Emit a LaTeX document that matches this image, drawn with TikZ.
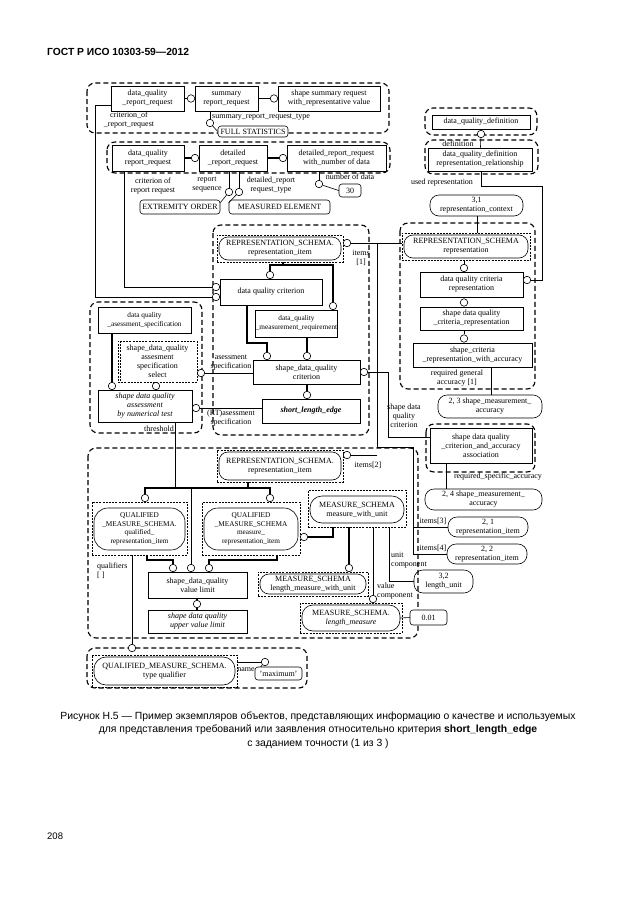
\documentclass[tikz,border=0pt]{standalone}
\usepackage{fontspec}
\setmainfont{Liberation Serif}
\newfontfamily\sansf{Liberation Sans}
\usetikzlibrary{calc}
\newcommand\ebx[6]{\node[#1,minimum width=#4pt,minimum height=#5pt] (#2) at (#3) {#6};}
\begin{document}
\begin{tikzpicture}[x=1pt,y=-1pt,
 ff/.style={font=\fontsize{8}{9}\selectfont},
 small/.style={font=\fontsize{7.3}{8.6}\selectfont},
 ital/.style={font=\fontsize{8}{9}\selectfont\itshape},
 ebox/.style={draw, line width=0.6pt, inner sep=0.5pt, align=center, ff},
 stad/.style={draw, line width=0.6pt, rounded corners=9pt, inner sep=0.5pt, align=center, ff},
 drect/.style={draw, line width=0.6pt, dash pattern=on 2pt off 1.2pt, inner sep=0, align=center, ff},
 valbox/.style={draw, fill=white, line width=0.6pt, rounded corners=3pt, inner sep=0.5pt, align=center, ff},
 grp/.style={draw, line width=1.1pt, dash pattern=on 5pt off 3pt, rounded corners=8pt},
 circ/.style={draw, circle, line width=0.6pt, minimum size=7.5pt, inner sep=0, fill=white},
 rel/.style={line width=0.6pt},
 sub/.style={line width=1.8pt},
 lab/.style={ff, align=center, inner sep=0},
]
\useasboundingbox (0,0) rectangle (630,913);
\fill[white] (0,0) rectangle (630,913);

% header, page number, caption
\node[anchor=west, font=\sansf\bfseries\fontsize{10.3}{12}\selectfont, inner sep=0] (hdr) at (47,52) {ГОСТ Р ИСО 10303-59—2012};
\node[anchor=west, font=\sansf\fontsize{9.5}{11}\selectfont, inner sep=0] (pg) at (47,836) {208};
\node[align=center, font=\sansf\fontsize{10.4}{13.5}\selectfont, inner sep=0] (cap) at (318,730) {Рисунок Н.5 — Пример экземпляров объектов, представляющих информацию о качестве и используемых\\для представления требований или заявления относительно критерия \textbf{short\_length\_edge}\\с заданием точности (1 из 3 )};

% groups
\draw[grp] (87,83) rectangle (389,133);
\draw[grp] (107,142) rectangle (390,173);
\draw[grp] (425,108) rectangle (537,135);
\draw[grp] (425,140) rectangle (538,174);
\draw[grp] (400,223) rectangle (535,389);
\draw[grp] (213,225) rectangle (369,435);
\draw[grp] (90,302) rectangle (202,433);
\draw[grp] (88,448) rectangle (418,638);
\draw[grp] (426,424) rectangle (535,472);
\draw[grp] (87,648) rectangle (307,688);

% top groups
\ebx{ebox}{dqrrA}{147.5,98.5}{73}{25}{data\_quality\\\_report\_request}
\ebx{ebox}{summ}{226.5,98.5}{63}{25}{summary\\report\_request}
\ebx{ebox}{shsum}{329,98.5}{102}{25}{shape summary request\\with\_representative value}
\ebx{valbox}{vfull}{253,131.5}{70}{11}{FULL STATISTICS}
\ebx{ebox}{dqrrB}{148,158}{72}{26}{data\_quality\\report\_request}
\ebx{ebox}{det}{233,158}{68}{26}{detailed\\\_report\_request}
\ebx{ebox}{detn}{336.5,158}{99}{26}{detailed\_report\_request\\with\_number of data}
\ebx{valbox}{vext}{180,207}{80}{14}{EXTREMITY ORDER}
\ebx{valbox}{vmeas}{279.5,207}{101}{14}{MEASURED ELEMENT}
\ebx{valbox}{vthirty}{350,190.5}{22}{13}{30}

% right column
\ebx{ebox}{dqd}{481,122}{98}{14}{data\_quality\_definition}
\ebx{ebox}{dqdrr}{480,159.5}{104}{23}{data\_quality\_definition\\representation\_relationship}
\ebx{stad}{ctx}{476.5,205.5}{93}{21}{3,1\\representation\_context}
\ebx{drect}{repd}{466,246.5}{128}{27}{}
\ebx{stad}{rep}{466,246.5}{124}{23}{REPRESENTATION\_SCHEMA\\representation}
\ebx{ebox}{dqcr}{471.5,284.5}{103}{25}{data quality criteria\\representation}
\ebx{ebox}{sdqcr}{471.5,318.5}{103}{23}{shape data quality\\\_criteria\_representation}
\ebx{ebox}{scra}{472.5,355}{119}{24}{shape\_criteria\\\_representation\_with\_accuracy}
\ebx{stad}{s23}{490,406.5}{104}{23}{2, 3 shape\_measurement\_\\accuracy}
\ebx{ebox}{assoc}{481,445.5}{102}{35}{shape data quality\\\_criterion\_and\_accuracy\\association}
\ebx{stad}{s24}{483.5,499.5}{117}{21}{2, 4 shape\_measurement\_\\accuracy}
\ebx{stad}{s21}{488,527}{80}{20}{2, 1\\representation\_item}
\ebx{stad}{s22}{487,554}{80}{20}{2, 2\\representation\_item}
\ebx{stad}{slu}{443.5,581.5}{59}{23}{3,2\\length\_unit}
\ebx{valbox}{vnum}{428.5,617.5}{37}{15}{0.01}

% centre
\ebx{drect}{riAd}{280,248.5}{126}{27}{}
\ebx{stad}{riA}{280,248.5}{122}{23}{REPRESENTATION\_SCHEMA.\\representation\_item}
\ebx{ebox}{dqc}{271,292}{102}{26}{data quality criterion}
\ebx{ebox,small}{dqmr}{296.5,323.5}{81}{27}{data\_quality\\\_measurement\_requirement}
\ebx{ebox}{sdqc}{306.5,372}{107}{24}{shape\_data\_quality\\criterion}
\ebx{ebox}{sle}{311,411}{98}{24}{\textbf{\textit{short\_length\_edge}}}

% left
\ebx{ebox,small}{dqas}{144.5,320}{93}{26}{data quality\\\_asessment\_specification}
\ebx{drect}{sel}{157.5,361.5}{79}{41}{shape\_data\_quality\\assesment\\specification\\select}
\draw[line width=0.5pt, dash pattern=on 2pt off 1.2pt] ([xshift=3pt]sel.north west) -- ([xshift=3pt]sel.south west);
\ebx{ebox,ital}{sdqa}{145,406}{94}{32}{shape data quality\\assessment\\by numerical test}

% bottom group
\ebx{drect}{riBd}{280,466}{126}{32}{}
\ebx{stad}{riB}{280,466}{122}{28}{REPRESENTATION\_SCHEMA.\\representation\_item}
\ebx{drect}{qAd}{139.5,528.5}{95}{53}{}
\ebx{stad,small,rounded corners=14pt}{qA}{139.5,529}{91}{42}{QUALIFIED\\\_MEASURE\_SCHEMA.\\qualified\_\\representation\_item}
\ebx{drect}{qBd}{251,528.5}{98}{53}{}
\ebx{stad,small,rounded corners=14pt}{qB}{251,529}{94}{42}{QUALIFIED\\\_MEASURE\_SCHEMA\\measure\_\\representation\_item}
\ebx{drect}{mwud}{357,508.5}{98}{37}{}
\ebx{stad,rounded corners=12pt}{mwu}{357,509.5}{94}{27}{MEASURE\_SCHEMA\\measure\_with\_unit}
\ebx{drect}{lmwud}{313,584}{110}{24}{}
\ebx{stad}{lmwu}{313,584}{106}{20}{MEASURE\_SCHEMA\\length\_measure\_with\_unit}
\ebx{drect}{lmd}{351,618}{102}{30}{}
\ebx{stad,rounded corners=11pt}{lm}{351,618}{98}{26}{MEASURE\_SCHEMA.\\\textit{length\_measure}}
\ebx{ebox}{vl}{197.5,585}{99}{26}{shape\_data\_quality\\value limit}
\ebx{ebox,ital}{uvl}{197.5,621.5}{99}{23}{shape data quality\\upper value limit}

% type qualifier
\ebx{drect}{tqd}{164.5,671}{145}{32}{}
\ebx{stad,rounded corners=12pt}{tq}{164.5,671}{141}{28}{QUALIFIED\_MEASURE\_SCHEMA.\\type qualifier}
\ebx{valbox}{vmax}{278.5,673.5}{47}{13}{'maximum'}

% circles
\node[circ] (c1) at (191,98.5) {};
\node[circ] (c2) at (274,98.5) {};
\node[circ] (c3) at (210,123) {};
\node[circ] (c4) at (195,158) {};
\node[circ] (c5) at (283,158) {};
\node[circ] (c6) at (229,192) {};
\node[circ] (c7) at (239,192) {};
\node[circ] (c8) at (319,184) {};
\node[circ] (c9) at (481,134) {};
\node[circ] (c10) at (527,280) {};
\node[circ] (c11) at (464,268) {};
\node[circ] (c12) at (464,302.5) {};
\node[circ] (c13) at (464,338.5) {};
\node[circ] (c14) at (347,243) {};
\node[circ] (c15) at (347,455) {};
\node[circ] (c16) at (364,372) {};
\node[circ] (c17) at (270,275) {};
\node[circ] (c18) at (333,306) {};
\node[circ] (c19) at (267,356) {};
\node[circ] (c20) at (307,356) {};
\node[circ] (c21) at (307,395) {};
\node[circ] (c22) at (112,386) {};
\node[circ] (c23) at (156,386) {};
\node[circ] (c24) at (201,373) {};
\node[circ] (c25) at (196,408) {};
\node[circ] (c26) at (191,568) {};
\node[circ] (c27) at (145,498) {};
\node[circ] (c28) at (270,498) {};
\node[circ] (c29) at (304,537) {};
\node[circ] (c30) at (349,568) {};
\node[circ] (c31) at (173,568) {};
\node[circ] (c32) at (209,568) {};
\node[circ] (c33) at (197,604) {};
\node[circ] (c34) at (132,648) {};
\node[circ] (c35) at (265,662) {};
\node[circ] (c36) at (373,599) {};
\node[circ] (cA) at (216,287) {};
\node[circ] (cB) at (216,297) {};

\coordinate (jA) at (377,243);
\coordinate (jB) at (377,447);
\coordinate (jC) at (413,447);

% connectors, top
\draw[sub] (dqrrA) -- (c1);
\draw[sub] (summ) -- (c2);
\draw[rel] (c3 |- summ.south) -- (c3);
\draw[rel] (c3) -- (vfull.west);
\draw[rel] ([yshift=-6.5pt]dqrrA.west) -- ++(-15,0) |- (cB);
\draw[rel] ([xshift=-24pt]dqrrB.south) |- (cA);
\draw[sub] (dqrrB) -- (c4);
\draw[sub] (det) -- (c5);
\draw[rel] (c6 |- det.south) -- (c6);
\draw[rel] (c7 |- det.south) -- (c7);
\draw[rel] (c6) -- ([yshift=-3pt]vext.north east);
\draw[rel] (c7) -- ([yshift=-3pt]vmeas.north west);
\draw[rel] (c8 |- detn.south) -- (c8);
\draw[rel] (c8) -- (vthirty.west);

% right column
\draw[rel] (dqd) -- (c9);
\draw[rel] (c9) -- (dqdrr);
\draw[rel] ([xshift=1pt]dqdrr.south) -- ++(0,14.5) -| (542,280) -- (c10);
\draw[rel] ([xshift=0.5pt]ctx.south) -- ([xshift=0.5pt]ctx.south |- repd.north);
\draw[rel] (c11 |- repd.south) -- (c11);
\draw[rel] (c11) -- (c11 |- dqcr.north);
\draw[rel] (c12 |- dqcr.south) -- (c12);
\draw[rel] (c12) -- (c12 |- sdqcr.north);
\draw[rel] (c13 |- sdqcr.south) -- (c13);
\draw[rel] (c13) -- (c13 |- scra.north);
\draw[rel] ([xshift=18.5pt]scra.south) -- ([xshift=18.5pt]scra.south |- s23.north);
\draw[rel] (repd.west |- c14) -- (c14);
\draw[rel] (jA) -- (jB) -- (jC) |- (s22);
\draw[rel] (jA |- c15) -- (c15);
\draw[rel] (jC |- s21) -- (s21);
\draw[rel] (c16) -- (388,372) |- ([yshift=8.5pt]assoc.west);
\draw[rel] ([xshift=-35pt]assoc.south) -- ([xshift=-35pt]assoc.south |- s24.north);

% centre
\draw[sub] ([xshift=3pt]riAd.south) -- ++(0,3.5);
\draw[sub] (c17) -- (270,265) -- (333,265) -- (c18);
\draw[sub] ([xshift=-24pt]dqc.south) -- ++(0,38) -| (c19);
\draw[sub] (c20 |- dqmr.south) -- (c20);
\draw[sub] (c21 |- sdqc.south) -- (c21);
\draw[sub] (c22 |- dqas.south) -- (c22);
\draw[rel] (c24) -- (c24 -| sdqc.west);
\draw[rel] (c25) -- (c25 -| sle.west);
\draw[rel] ([xshift=30pt]sdqa.south) -- ++(0,66) -| (c26);

% bottom group
\draw[sub] ([xshift=-32pt]riBd.south) -- ++(0,6);
\draw[sub] (c27) -- (145,488) -- (270,488) -- (c28);
\draw[sub] ([xshift=-24pt]mwud.south) |- (c29);
\draw[sub] (c30 |- mwud.south) -- (c30);
\draw[sub] ([xshift=7.5pt]qAd.south) -- ++(0,5) -| (c31);
\draw[sub] ([xshift=26pt]qBd.south) -- ++(0,5) -| (c32);
\draw[sub] (c33 |- vl.south) -- (c33);
\draw[sub] (c33) -- (c33 |- uvl.north);
\draw[rel] (c34 |- qAd.south) -- (c34);
\draw[rel] (c35 -| tqd.east) -- (c35);
\draw[rel] (c35) -- ([xshift=6pt]vmax.north west);
\draw[rel] ([xshift=32pt]mwud.south) |- (slu);
\draw[rel] (c36 |- mwud.south) -- (c36);
\draw[rel] (lm.east) -- (vnum.west);

% labels
\node[lab] (l1) at (129,120) {criterion\_of\\\_report\_request};
\node[lab, anchor=west] (l2) at (212,117) {summary\_report\_request\_type};
\node[lab] (l3) at (153,186) {criterion of\\report request};
\node[lab] (l4) at (207,185) {report\\sequence};
\node[lab] (l5) at (271,185) {detailed\_report\\request\_type};
\node[lab] (l6) at (350,177) {number of data};
\node[lab] (l7) at (458,144) {definition};
\node[lab] (l8) at (442,183) {used representation};
\node[lab] (l9) at (361,258) {items\\{[1]}};
\node[lab] (l10) at (457,378) {required general\\accuracy {[1]}};
\node[lab] (l11) at (404,416) {shape data\\quality\\criterion};
\node[lab] (l12) at (498,477) {required\_specific\_accuracy};
\node[lab] (l13) at (433,521) {items{[3]}};
\node[lab] (l14) at (433,548) {items{[4]}};
\node[lab, align=left, anchor=west] (l15) at (391,560) {unit\\component};
\node[lab, align=left, anchor=west] (l16) at (377,591) {value\\component};
\node[lab] (l17) at (368,465) {items{[2]}};
\node[lab] (l18) at (231,363) {asessment\\specification};
\node[lab] (l19) at (231,418) {(RT)asessment\\specification};
\node[lab] (l20) at (159,429) {threshold};
\node[lab, align=left, anchor=west] (l21) at (97,571) {qualifiers\\{[ ]}};
\node[lab] (l22) at (246,670) {name};
\end{tikzpicture}
\end{document}
